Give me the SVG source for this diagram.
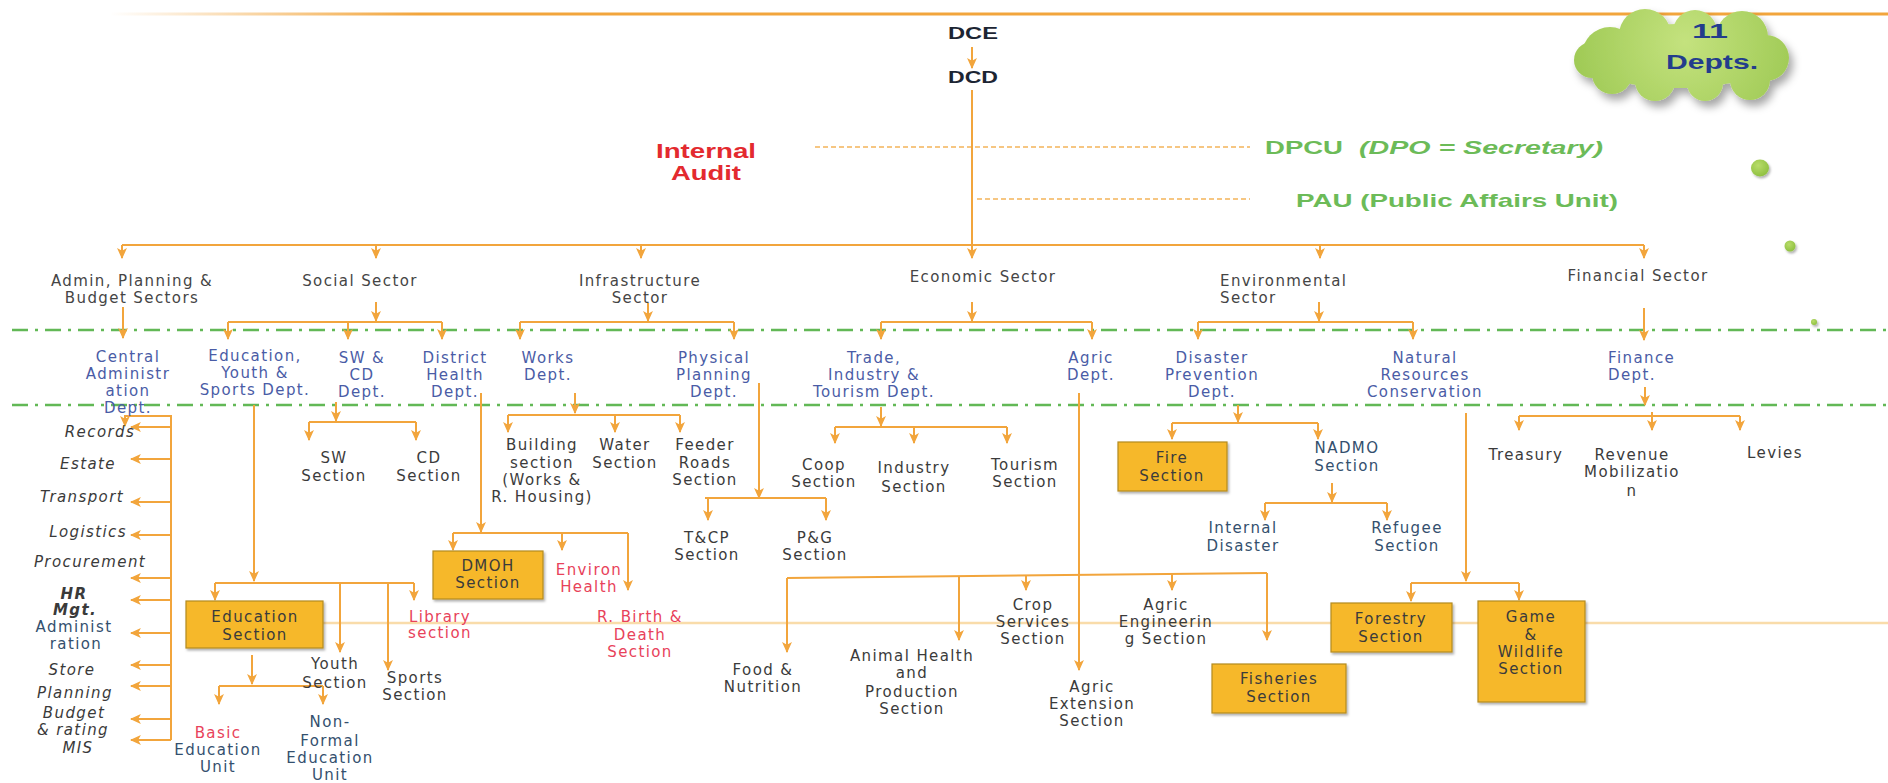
<svg xmlns="http://www.w3.org/2000/svg" width="1888" height="783" viewBox="0 0 1888 783">
<defs>
<style>
.ln{fill:none;stroke:#f2a53c;stroke-width:2}
.ar{marker-end:url(#ah)}
.lb{font-family:"DejaVu Sans",sans-serif;font-size:15px;letter-spacing:1.4px;text-anchor:middle}
.st{text-anchor:start}
.sec{fill:#454545}
.dep{fill:#4a5ca6}
.sx{fill:#3b3b3b}
.tl{fill:#34506e}
.red{fill:#e8425a}
.it{font-style:italic;fill:#3a3a3a}
.bd{font-weight:bold}
.box{fill:#f6b82a;stroke:#b48a22;stroke-width:1.2;filter:url(#sh)}
.hd{font-family:"Liberation Sans",sans-serif;font-weight:bold}
.grn{fill:#6cbb58}
.dd{fill:none;stroke:#62b856;stroke-width:2.5;stroke-dasharray:16 7 3 7}
.dsh{fill:none;stroke:#f4b45a;stroke-width:1.6;stroke-dasharray:5 3}
.faint{fill:none;stroke:#f9dcaa;stroke-width:2.5}
</style>
<marker id="ah" markerUnits="userSpaceOnUse" markerWidth="11" markerHeight="11" viewBox="0 0 10 10" refX="9" refY="5" orient="auto"><path d="M0,0.5 L10,5 L0,9.5 L2.5,5 Z" fill="#f2a53c"/></marker>
<linearGradient id="tg" gradientUnits="userSpaceOnUse" x1="110" y1="0" x2="420" y2="0"><stop offset="0" stop-color="#f2a53c" stop-opacity="0"/><stop offset="1" stop-color="#f2a53c" stop-opacity="1"/></linearGradient>
<radialGradient id="cg" gradientUnits="userSpaceOnUse" cx="1685" cy="42" r="150"><stop offset="0" stop-color="#c4e27e"/><stop offset="1" stop-color="#93c248"/></radialGradient>
<radialGradient id="dg" cx="40%" cy="35%" r="70%"><stop offset="0" stop-color="#b8dc6a"/><stop offset="1" stop-color="#8dbf3e"/></radialGradient>
<filter id="sh" x="-10%" y="-10%" width="130%" height="130%"><feDropShadow dx="1.5" dy="2" stdDeviation="1.2" flood-color="#000" flood-opacity="0.3"/></filter>
<filter id="csh" x="-10%" y="-20%" width="130%" height="150%"><feDropShadow dx="4" dy="6" stdDeviation="4" flood-color="#000" flood-opacity="0.35"/></filter>
</defs>
<rect x="0" y="0" width="1888" height="783" fill="#ffffff"/>

<!-- top line and guides -->
<line x1="110" y1="14" x2="1888" y2="14" stroke="url(#tg)" stroke-width="3"/>
<path class="dd" d="M12,330 H1888"/>
<path class="dd" d="M12,405 H1888"/>
<path class="faint" d="M323,623 H1888"/>
<path class="dsh" d="M815,147 H1250"/>
<path class="dsh" d="M977,199 H1250"/>

<!-- cloud -->
<g id="cloud" filter="url(#csh)" fill="url(#cg)">
<ellipse cx="1678" cy="56" rx="100" ry="32"/>
<circle cx="1610" cy="55" r="28"/>
<circle cx="1645" cy="35" r="26"/>
<circle cx="1695" cy="32" r="22"/>
<circle cx="1742" cy="37" r="26"/>
<circle cx="1766" cy="58" r="23"/>
<circle cx="1750" cy="80" r="20"/>
<circle cx="1705" cy="83" r="18"/>
<circle cx="1655" cy="81" r="20"/>
<circle cx="1612" cy="74" r="20"/>
<circle cx="1592" cy="60" r="18"/>
</g>
<g id="depts11">
<text class="hd" x="1710" y="38" font-size="20" fill="#233d8c" text-anchor="middle" textLength="36" lengthAdjust="spacingAndGlyphs">11</text>
<text class="hd" x="1712" y="69" font-size="20" fill="#233d8c" text-anchor="middle" textLength="92" lengthAdjust="spacingAndGlyphs">Depts.</text>
</g>
<g id="dots" filter="url(#sh)" fill="url(#dg)">
<ellipse cx="1760" cy="168" rx="9" ry="8.5"/>
<circle cx="1790" cy="246" r="5.5"/>
<circle cx="1814" cy="322" r="3"/>
</g>

<!-- connectors -->
<g id="connectors">
<path class="ln ar" d="M972,47 V68"/>
<path class="ln ar" d="M972,90 V258"/>
<path class="ln" d="M122,245 H1644"/>
<path class="ln ar" d="M122,245 V258"/>
<path class="ln ar" d="M376,245 V258"/>
<path class="ln ar" d="M641,245 V258"/>
<path class="ln ar" d="M1320,245 V258"/>
<path class="ln ar" d="M1644,245 V258"/>

<path class="ln ar" d="M123,307 V338"/>
<path class="ln ar" d="M376,302 V321"/>
<path class="ln" d="M228,322 H442"/>
<path class="ln ar" d="M228,322 V339"/>
<path class="ln ar" d="M348,322 V339"/>
<path class="ln ar" d="M442,322 V339"/>
<path class="ln ar" d="M648,303 V321"/>
<path class="ln" d="M520,322 H734"/>
<path class="ln ar" d="M520,322 V339"/>
<path class="ln ar" d="M734,322 V339"/>
<path class="ln ar" d="M972,302 V321"/>
<path class="ln" d="M881,322 H1092"/>
<path class="ln ar" d="M881,322 V339"/>
<path class="ln ar" d="M1092,322 V339"/>
<path class="ln ar" d="M1319,302 V321"/>
<path class="ln" d="M1198,322 H1413"/>
<path class="ln ar" d="M1198,322 V339"/>
<path class="ln ar" d="M1413,322 V339"/>
<path class="ln ar" d="M1644,308 V340"/>

<!-- central administration -->
<path class="ln ar" d="M171,740 V416 H125 V426"/>
<path class="ln ar" d="M171,427 H131"/>
<path class="ln ar" d="M171,459 H131"/>
<path class="ln ar" d="M171,502 H131"/>
<path class="ln ar" d="M171,535 H131"/>
<path class="ln ar" d="M171,578 H131"/>
<path class="ln ar" d="M171,600 H131"/>
<path class="ln ar" d="M171,633 H131"/>
<path class="ln ar" d="M171,665 H131"/>
<path class="ln ar" d="M171,686 H131"/>
<path class="ln ar" d="M171,719 H131"/>
<path class="ln ar" d="M171,740 H131"/>

<!-- education -->
<path class="ln ar" d="M254,405 V581"/>
<path class="ln" d="M215,583 H414"/>
<path class="ln ar" d="M215,583 V600"/>
<path class="ln ar" d="M340,583 V652"/>
<path class="ln ar" d="M388,583 V670"/>
<path class="ln ar" d="M414,583 V600"/>
<path class="ln ar" d="M252,655 V684"/>
<path class="ln" d="M219,686 H323"/>
<path class="ln ar" d="M219,686 V704"/>
<path class="ln ar" d="M323,686 V704"/>

<!-- SW & CD -->
<path class="ln ar" d="M336,402 V421"/>
<path class="ln" d="M309,422 H416"/>
<path class="ln ar" d="M309,422 V440"/>
<path class="ln ar" d="M416,422 V440"/>

<!-- district health -->
<path class="ln ar" d="M481,393 V532"/>
<path class="ln" d="M453,533 H628"/>
<path class="ln ar" d="M453,533 V550"/>
<path class="ln ar" d="M562,533 V550"/>
<path class="ln ar" d="M628,533 V590"/>

<!-- works -->
<path class="ln ar" d="M575,393 V413"/>
<path class="ln" d="M508,415 H680"/>
<path class="ln ar" d="M508,415 V432"/>
<path class="ln ar" d="M615,415 V432"/>
<path class="ln ar" d="M680,415 V432"/>

<!-- physical planning -->
<path class="ln ar" d="M759,383 V498"/>
<path class="ln" d="M705,498 H826"/>
<path class="ln ar" d="M708,498 V520"/>
<path class="ln ar" d="M826,498 V520"/>

<!-- trade -->
<path class="ln ar" d="M881,407 V426"/>
<path class="ln" d="M835,427 H1007"/>
<path class="ln ar" d="M835,427 V443"/>
<path class="ln ar" d="M914,427 V443"/>
<path class="ln ar" d="M1007,427 V443"/>

<!-- agric -->
<path class="ln ar" d="M1079,393 V670"/>
<path class="ln" d="M787,578 L1267,573"/>
<path class="ln ar" d="M787,578 V652"/>
<path class="ln ar" d="M959,576 V640"/>
<path class="ln ar" d="M1026,576 V590"/>
<path class="ln ar" d="M1172,574 V590"/>
<path class="ln ar" d="M1267,573 V640"/>

<!-- disaster -->
<path class="ln ar" d="M1238,405 V422"/>
<path class="ln" d="M1172,423 H1318"/>
<path class="ln ar" d="M1172,423 V439"/>
<path class="ln ar" d="M1318,423 V439"/>
<path class="ln ar" d="M1332,483 V502"/>
<path class="ln" d="M1265,503 H1387"/>
<path class="ln ar" d="M1265,503 V520"/>
<path class="ln ar" d="M1387,503 V520"/>

<!-- natural resources -->
<path class="ln ar" d="M1466,413 V581"/>
<path class="ln" d="M1411,583 H1519"/>
<path class="ln ar" d="M1411,583 V601"/>
<path class="ln ar" d="M1519,583 V600"/>

<!-- finance -->
<path class="ln ar" d="M1645,387 V405"/>
<path class="ln" d="M1519,416 H1740"/>
<path class="ln ar" d="M1519,416 V430"/>
<path class="ln ar" d="M1652,412 V430"/>
<path class="ln ar" d="M1740,416 V430"/>
</g>

<!-- header nodes -->
<g id="dce"><text class="hd" x="973" y="39" font-size="17" fill="#1c2533" text-anchor="middle" textLength="50" lengthAdjust="spacingAndGlyphs">DCE</text></g>
<g id="dcd"><text class="hd" x="973" y="83" font-size="17" fill="#1c2533" text-anchor="middle" textLength="50" lengthAdjust="spacingAndGlyphs">DCD</text></g>
<g id="internal-audit">
<text class="hd" x="706" y="158" font-size="21" fill="#e32a2f" text-anchor="middle" textLength="100" lengthAdjust="spacingAndGlyphs">Internal</text>
<text class="hd" x="706" y="180" font-size="21" fill="#e32a2f" text-anchor="middle" textLength="70" lengthAdjust="spacingAndGlyphs">Audit</text>
</g>
<g id="dpcu">
<text class="hd grn" x="1265" y="154" font-size="19" textLength="78" lengthAdjust="spacingAndGlyphs">DPCU</text>
<text class="hd grn" x="1359" y="154" font-size="19" font-style="italic" textLength="244" lengthAdjust="spacingAndGlyphs">(DPO = Secretary)</text>
</g>
<g id="pau"><text class="hd grn" x="1296" y="207" font-size="19" textLength="322" lengthAdjust="spacingAndGlyphs">PAU (Public Affairs Unit)</text></g>

<!-- sectors -->
<g id="admin-sector"><text class="lb sec" x="132" y="286"><tspan x="132">Admin, Planning &amp;</tspan><tspan x="132" dy="17">Budget Sectors</tspan></text></g>
<g id="social-sector"><text class="lb sec" x="360" y="286">Social Sector</text></g>
<g id="infra-sector"><text class="lb sec" x="640" y="286"><tspan x="640">Infrastructure</tspan><tspan x="640" dy="17">Sector</tspan></text></g>
<g id="economic-sector"><text class="lb sec" x="983" y="282">Economic Sector</text></g>
<g id="env-sector"><text class="lb sec st" x="1220" y="286"><tspan x="1220">Environmental</tspan><tspan x="1220" dy="17">Sector</tspan></text></g>
<g id="financial-sector"><text class="lb sec" x="1638" y="281">Financial Sector</text></g>

<!-- departments -->
<g id="central-admin"><text class="lb dep" x="128" y="362"><tspan x="128">Central</tspan><tspan x="128" dy="17">Administr</tspan><tspan x="128" dy="17">ation</tspan><tspan x="128" dy="17">Dept.</tspan></text></g>
<g id="education-dept"><text class="lb dep" x="255" y="361"><tspan x="255">Education,</tspan><tspan x="255" dy="17">Youth &amp;</tspan><tspan x="255" dy="17">Sports Dept.</tspan></text></g>
<g id="swcd-dept"><text class="lb dep" x="362" y="363"><tspan x="362">SW &amp;</tspan><tspan x="362" dy="17">CD</tspan><tspan x="362" dy="17">Dept.</tspan></text></g>
<g id="health-dept"><text class="lb dep" x="455" y="363"><tspan x="455">District</tspan><tspan x="455" dy="17">Health</tspan><tspan x="455" dy="17">Dept.</tspan></text></g>
<g id="works-dept"><text class="lb dep" x="548" y="363"><tspan x="548">Works</tspan><tspan x="548" dy="17">Dept.</tspan></text></g>
<g id="physical-dept"><text class="lb dep" x="714" y="363"><tspan x="714">Physical</tspan><tspan x="714" dy="17">Planning</tspan><tspan x="714" dy="17">Dept.</tspan></text></g>
<g id="trade-dept"><text class="lb dep" x="874" y="363"><tspan x="874">Trade,</tspan><tspan x="874" dy="17">Industry  &amp;</tspan><tspan x="874" dy="17">Tourism Dept.</tspan></text></g>
<g id="agric-dept"><text class="lb dep" x="1091" y="363"><tspan x="1091">Agric</tspan><tspan x="1091" dy="17">Dept.</tspan></text></g>
<g id="disaster-dept"><text class="lb dep" x="1212" y="363"><tspan x="1212">Disaster</tspan><tspan x="1212" dy="17">Prevention</tspan><tspan x="1212" dy="17">Dept.</tspan></text></g>
<g id="natural-dept"><text class="lb dep" x="1425" y="363"><tspan x="1425">Natural</tspan><tspan x="1425" dy="17">Resources</tspan><tspan x="1425" dy="17">Conservation</tspan></text></g>
<g id="finance-dept"><text class="lb dep st" x="1608" y="363"><tspan x="1608">Finance</tspan><tspan x="1608" dy="17">Dept.</tspan></text></g>

<!-- central administration units -->
<g id="records"><text class="lb it" x="100" y="437">Records</text></g>
<g id="estate"><text class="lb it" x="88" y="469">Estate</text></g>
<g id="transport"><text class="lb it" x="82" y="502">Transport</text></g>
<g id="logistics"><text class="lb it" x="88" y="537">Logistics</text></g>
<g id="procurement"><text class="lb it" x="90" y="567">Procurement</text></g>
<g id="hr"><text class="lb it bd" x="74" y="599"><tspan x="74">HR</tspan><tspan x="75" dy="16">Mgt.</tspan></text></g>
<g id="administration"><text class="lb tl" x="74" y="632"><tspan x="74">Administ</tspan><tspan x="76" dy="17">ration</tspan></text></g>
<g id="store"><text class="lb it" x="72" y="675">Store</text></g>
<g id="planning"><text class="lb it" x="75" y="698">Planning</text></g>
<g id="budget"><text class="lb it" x="74" y="718"><tspan x="74">Budget</tspan><tspan x="73" dy="17">&amp; rating</tspan><tspan x="78" dy="18">MIS</tspan></text></g>

<!-- education sections -->
<g id="education-section"><rect class="box" x="186" y="601" width="137" height="47"/><text class="lb sx" x="255" y="622"><tspan x="255">Education</tspan><tspan x="255" dy="18">Section</tspan></text></g>
<g id="library"><text class="lb red" x="440" y="622"><tspan x="440">Library</tspan><tspan x="440" dy="16">section</tspan></text></g>
<g id="youth"><text class="lb sx" x="335" y="669"><tspan x="335">Youth</tspan><tspan x="335" dy="19">Section</tspan></text></g>
<g id="sports"><text class="lb sx" x="415" y="683"><tspan x="415">Sports</tspan><tspan x="415" dy="17">Section</tspan></text></g>
<g id="basic-edu"><text class="lb tl" x="218" y="738"><tspan x="218" class="red">Basic</tspan><tspan x="218" dy="17">Education</tspan><tspan x="218" dy="17">Unit</tspan></text></g>
<g id="nonformal-edu"><text class="lb tl" x="330" y="727"><tspan x="330">Non-</tspan><tspan x="330" dy="19">Formal</tspan><tspan x="330" dy="17">Education</tspan><tspan x="330" dy="17">Unit</tspan></text></g>

<!-- SW & CD sections -->
<g id="sw-section"><text class="lb sx" x="334" y="463"><tspan x="334">SW</tspan><tspan x="334" dy="18">Section</tspan></text></g>
<g id="cd-section"><text class="lb sx" x="429" y="463"><tspan x="429">CD</tspan><tspan x="429" dy="18">Section</tspan></text></g>

<!-- health sections -->
<g id="dmoh-section"><rect class="box" x="433" y="551" width="110" height="48"/><text class="lb sx" x="488" y="571"><tspan x="488">DMOH</tspan><tspan x="488" dy="17">Section</tspan></text></g>
<g id="environ-health"><text class="lb red" x="589" y="575"><tspan x="589">Environ</tspan><tspan x="589" dy="17">Health</tspan></text></g>
<g id="birth-death"><text class="lb red" x="640" y="622"><tspan x="640">R. Birth &amp;</tspan><tspan x="640" dy="18">Death</tspan><tspan x="640" dy="17">Section</tspan></text></g>

<!-- works sections -->
<g id="building"><text class="lb sx" x="542" y="450"><tspan x="542">Building</tspan><tspan x="542" dy="18">section</tspan><tspan x="542" dy="17">(Works &amp;</tspan><tspan x="542" dy="17">R. Housing)</tspan></text></g>
<g id="water"><text class="lb sx" x="625" y="450"><tspan x="625">Water</tspan><tspan x="625" dy="18">Section</tspan></text></g>
<g id="feeder"><text class="lb sx" x="705" y="450"><tspan x="705">Feeder</tspan><tspan x="705" dy="18">Roads</tspan><tspan x="705" dy="17">Section</tspan></text></g>

<!-- physical planning sections -->
<g id="tcp"><text class="lb sx" x="707" y="543"><tspan x="707">T&amp;CP</tspan><tspan x="707" dy="17">Section</tspan></text></g>
<g id="pg"><text class="lb sx" x="815" y="543"><tspan x="815">P&amp;G</tspan><tspan x="815" dy="17">Section</tspan></text></g>

<!-- trade sections -->
<g id="coop"><text class="lb sx" x="824" y="470"><tspan x="824">Coop</tspan><tspan x="824" dy="17">Section</tspan></text></g>
<g id="industry"><text class="lb sx" x="914" y="473"><tspan x="914">Industry</tspan><tspan x="914" dy="19">Section</tspan></text></g>
<g id="tourism"><text class="lb sx" x="1025" y="470"><tspan x="1025">Tourism</tspan><tspan x="1025" dy="17">Section</tspan></text></g>

<!-- agric sections -->
<g id="food"><text class="lb sx" x="763" y="675"><tspan x="763">Food &amp;</tspan><tspan x="763" dy="17">Nutrition</tspan></text></g>
<g id="animal"><text class="lb sx" x="912" y="661"><tspan x="912">Animal Health</tspan><tspan x="912" dy="17">and</tspan><tspan x="912" dy="19">Production</tspan><tspan x="912" dy="17">Section</tspan></text></g>
<g id="crop"><text class="lb sx" x="1033" y="610"><tspan x="1033">Crop</tspan><tspan x="1033" dy="17">Services</tspan><tspan x="1033" dy="17">Section</tspan></text></g>
<g id="agric-eng"><text class="lb sx" x="1166" y="610"><tspan x="1166">Agric</tspan><tspan x="1166" dy="17">Engineerin</tspan><tspan x="1166" dy="17">g Section</tspan></text></g>
<g id="agric-ext"><text class="lb sx" x="1092" y="692"><tspan x="1092">Agric</tspan><tspan x="1092" dy="17">Extension</tspan><tspan x="1092" dy="17">Section</tspan></text></g>
<g id="fisheries"><rect class="box" x="1212" y="664" width="134" height="49"/><text class="lb sx" x="1279" y="684"><tspan x="1279">Fisheries</tspan><tspan x="1279" dy="18">Section</tspan></text></g>

<!-- disaster sections -->
<g id="fire"><rect class="box" x="1118" y="442" width="109" height="49"/><text class="lb sx" x="1172" y="463"><tspan x="1172">Fire</tspan><tspan x="1172" dy="18">Section</tspan></text></g>
<g id="nadmo"><text class="lb tl" x="1347" y="453"><tspan x="1347">NADMO</tspan><tspan x="1347" dy="18">Section</tspan></text></g>
<g id="internal-disaster"><text class="lb tl" x="1243" y="533"><tspan x="1243">Internal</tspan><tspan x="1243" dy="18">Disaster</tspan></text></g>
<g id="refugee"><text class="lb tl" x="1407" y="533"><tspan x="1407">Refugee</tspan><tspan x="1407" dy="18">Section</tspan></text></g>

<!-- natural resources sections -->
<g id="forestry"><rect class="box" x="1331" y="603" width="121" height="49"/><text class="lb sx" x="1391" y="624"><tspan x="1391">Forestry</tspan><tspan x="1391" dy="18">Section</tspan></text></g>
<g id="game"><rect class="box" x="1478" y="601" width="107" height="101"/><text class="lb sx" x="1531" y="622"><tspan x="1531">Game</tspan><tspan x="1531" dy="18">&amp;</tspan><tspan x="1531" dy="17">Wildlife</tspan><tspan x="1531" dy="17">Section</tspan></text></g>

<!-- finance sections -->
<g id="treasury"><text class="lb sx" x="1526" y="460">Treasury</text></g>
<g id="revenue"><text class="lb sx" x="1632" y="460"><tspan x="1632">Revenue</tspan><tspan x="1632" dy="17">Mobilizatio</tspan><tspan x="1632" dy="19">n</tspan></text></g>
<g id="levies"><text class="lb sx" x="1775" y="458">Levies</text></g>
</svg>
